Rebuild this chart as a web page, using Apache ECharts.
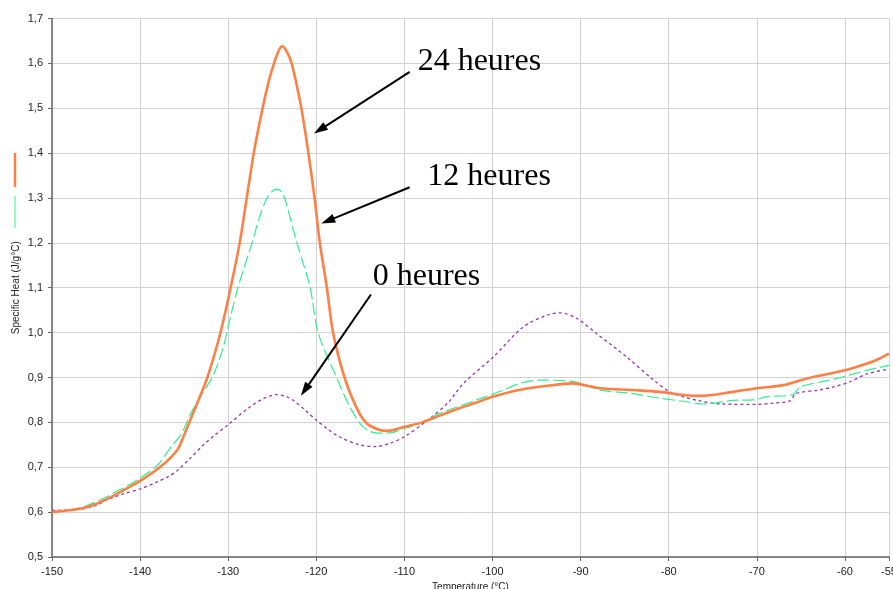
<!DOCTYPE html>
<html>
<head>
<meta charset="utf-8">
<script src="https://cdn.jsdelivr.net/npm/echarts@6/dist/echarts.min.js"></script>
<style>html,body{margin:0;padding:0;background:#fff;overflow:hidden}#c{width:893px;height:589px}</style>
</head>
<body>
<div id="c"></div>
<script>
// ---- data ----
var xTicksMin = -150, xTicksMax = -55, xStep = 10;
var yTicksMin = 0.5, yTicksMax = 1.7, yStep = 0.1;

var h24 = [[-150,0.600],[-148,0.604],[-146.4,0.609],[-145,0.618],[-143.8,0.629],[-142.5,0.642],[-141.5,0.653],[-139.8,0.672],[-137.7,0.701],[-135.8,0.738],[-135,0.772],[-134,0.820],[-133.2,0.858],[-132.4,0.898],[-131.1,0.983],[-130,1.075],[-128.7,1.2],[-127.9,1.3],[-127.1,1.4],[-126.1,1.5],[-125.4,1.56],[-124.8,1.6],[-124.3,1.627],[-123.9,1.638],[-123.4,1.628],[-122.8,1.6],[-121.7,1.5],[-120.9,1.4],[-120.2,1.3],[-119.6,1.2],[-118.8,1.1],[-118.1,1.0],[-116.8,0.9],[-115.5,0.835],[-114.3,0.798],[-112.8,0.783],[-111.9,0.781],[-110,0.79],[-108,0.80],[-106,0.815],[-104,0.83],[-102,0.843],[-100,0.857],[-97,0.872],[-94,0.881],[-90.9,0.887],[-87.8,0.876],[-84,0.872],[-81,0.868],[-78.3,0.861],[-76.4,0.859],[-72.7,0.868],[-70,0.876],[-67,0.883],[-64.3,0.898],[-60,0.916],[-57.5,0.931],[-56,0.943],[-55,0.953]];

var h12 = [[-150,0.601],[-148,0.605],[-146.4,0.612],[-144,0.632],[-142.5,0.648],[-141.5,0.658],[-140,0.676],[-138,0.705],[-136.5,0.745],[-135.3,0.775],[-134.2,0.822],[-133,0.862],[-131.7,0.905],[-130.6,0.965],[-129.8,1.03],[-128.9,1.1],[-127.3,1.2],[-126.4,1.26],[-125.6,1.3],[-125,1.315],[-124.5,1.32],[-124,1.315],[-123.6,1.3],[-122.2,1.2],[-120.7,1.1],[-119.8,1.0],[-117.7,0.9],[-116.2,0.835],[-114.7,0.79],[-113.1,0.776],[-112,0.776],[-109.9,0.787],[-108,0.80],[-106,0.82],[-103.5,0.838],[-101.4,0.853],[-99,0.870],[-96.9,0.887],[-94.6,0.894],[-90.8,0.891],[-87.8,0.872],[-84.4,0.865],[-81,0.854],[-78,0.846],[-76.1,0.841],[-72.7,0.849],[-70.4,0.850],[-68.9,0.857],[-65.9,0.862],[-65.1,0.879],[-61.3,0.896],[-57.5,0.916],[-55,0.927]];

var h0 = [[-150,0.604],[-147,0.606],[-145,0.615],[-143.8,0.627],[-142,0.640],[-139.8,0.653],[-138,0.668],[-136.8,0.679],[-135.7,0.694],[-134.3,0.72],[-132.9,0.748],[-131.5,0.772],[-130,0.795],[-127.7,0.832],[-126,0.853],[-124.5,0.862],[-123.5,0.858],[-122.6,0.849],[-121.3,0.828],[-120,0.805],[-118.7,0.785],[-117.4,0.768],[-115.1,0.75],[-113.2,0.746],[-111.7,0.753],[-110,0.768],[-107.1,0.809],[-105,0.845],[-103.3,0.887],[-99.9,0.946],[-96.5,1.013],[-93.8,1.039],[-92.3,1.044],[-90.4,1.031],[-88.2,0.998],[-84.8,0.946],[-81.7,0.894],[-79.9,0.868],[-78.3,0.857],[-76.8,0.849],[-74,0.841],[-70,0.840],[-68.1,0.843],[-66.2,0.848],[-65.6,0.864],[-63,0.872],[-61.3,0.879],[-59.5,0.89],[-57.5,0.908],[-55,0.919]];

var annLabels = ["24 heures", "12 heures", "0 heures"];
// text anchors (left, middle) in data units
var textAnchors = [[-108.5,1.603],[-107.4,1.348],[-113.6,1.125]];
// arrows: [startX, startY, endX, endY] in data units
var annArrows = [[-109.4,1.581,-119.6,1.452],[-109.4,1.324,-118.7,1.249],[-113.8,1.085,-121.3,0.872]];

// ---- chart ----
var chart = echarts.init(document.getElementById('c'), null, {renderer:'canvas', width:893, height:589});
var font = 'Liberation Sans, Arial, sans-serif';

var arrowData = annArrows.map(function(a){
  return [{coord:[a[0],a[1]]},{coord:[a[2],a[3]]}];
});

chart.setOption({
  animation:false,
  backgroundColor:'#ffffff',
  grid:{left:52,top:18.5,width:837,height:538.5,containLabel:false,outerBoundsMode:'none'},
  xAxis:{
    type:'value', min:xTicksMin, max:xTicksMax, interval:xStep,
    name:'Temperature (°C)', nameLocation:'middle', nameGap:25,
    nameTextStyle:{fontFamily:font,fontSize:10,color:'#222'},
    axisLine:{show:true,onZero:false,lineStyle:{color:'#666',width:1.5}},
    axisTick:{show:true,length:4,lineStyle:{color:'#666'}},
    axisLabel:{fontFamily:font,fontSize:11,color:'#222',margin:9,showMaxLabel:true,showMinLabel:true},
    splitLine:{show:true,lineStyle:{color:'#d2d2d2',width:1}}
  },
  yAxis:{
    type:'value', min:yTicksMin, max:yTicksMax, interval:yStep,
    name:'Specific Heat (J/g°C)', nameLocation:'middle', nameGap:31, nameRotate:90, nameMoveOverlap:false,
    nameTextStyle:{fontFamily:font,fontSize:10,color:'#222'},
    axisLine:{show:true,onZero:false,lineStyle:{color:'#666',width:1.5}},
    axisTick:{show:true,length:4,lineStyle:{color:'#666'}},
    axisLabel:{fontFamily:font,fontSize:11,color:'#222',margin:9,
      formatter:function(v){return v.toFixed(1).replace('.',',');}},
    splitLine:{show:true,lineStyle:{color:'#d2d2d2',width:1}}
  },
  series:[
    {name:'0 heures',type:'line',data:h0,showSymbol:false,smooth:0.3,
     lineStyle:{color:'#9b30b0',width:1.3,type:[3,3]}},
    {name:'12 heures',type:'line',data:h12,showSymbol:false,smooth:0.3,
     lineStyle:{color:'#2cf28c',width:1.2,type:[12,4]}},
    {name:'24 heures',type:'line',data:h24,showSymbol:false,smooth:0.3,
     lineStyle:{color:'#ff7f45',width:2.6},
     markLine:{silent:true,symbol:['none','triangle'],symbolSize:[9,14],
       label:{show:false},emphasis:{disabled:true},
       lineStyle:{color:'#000',width:2,type:'solid'},
       data:arrowData}}
  ]
});

var g = [];
annLabels.forEach(function(t,i){
  var p = chart.convertToPixel({gridIndex:0}, textAnchors[i]);
  g.push({type:'text',x:p[0],y:p[1],style:{text:t,font:'32px "Liberation Serif", "Times New Roman", serif',fill:'#000',textAlign:'left',textVerticalAlign:'middle'},silent:true});
});
// truncated legend swatches at left edge
g.push({type:'line',shape:{x1:15,y1:153,x2:15,y2:187},style:{stroke:'#ff7f45',lineWidth:2.5},silent:true});
g.push({type:'line',shape:{x1:15,y1:196,x2:15,y2:228},style:{stroke:'#2cf28c',lineWidth:1},silent:true});
chart.setOption({graphic:g});
</script>
</body>
</html>
